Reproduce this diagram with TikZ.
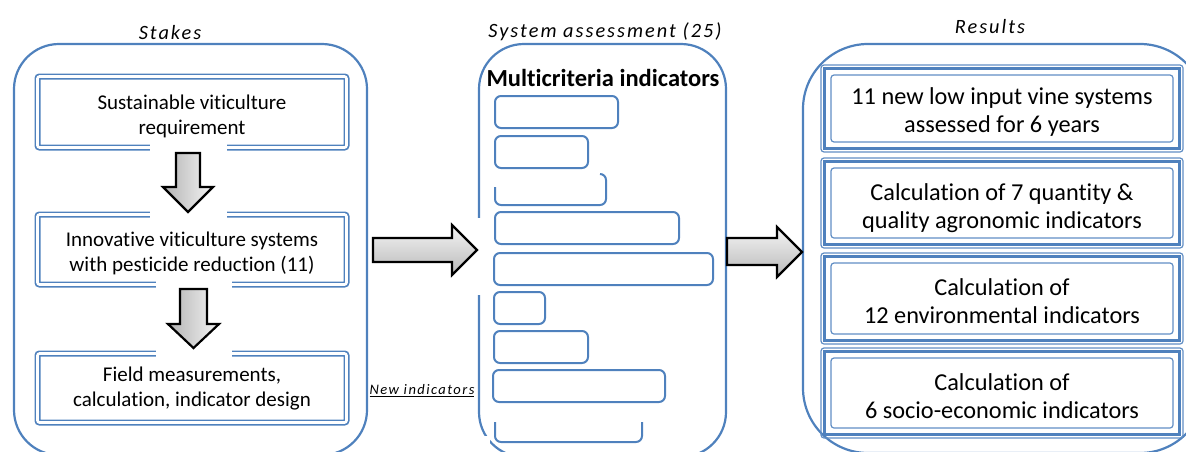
\documentclass[tikz,border=0pt]{standalone}
\usepackage{fontspec}
\setmainfont{Carlito}[Ligatures={NoCommon}]
\newfontfamily\spacedfont[LetterSpace=10]{Carlito}
\usetikzlibrary{calc}
\definecolor{obl}{HTML}{4F81BD}
\begin{document}
\begin{tikzpicture}[x=1pt,y=-1pt,
  container/.style={draw=obl, line width=2.2pt, inner sep=0pt, outer sep=0pt},
  dblbox/.style={draw=obl, double=white, double distance=2.6pt, line width=1.7pt, rounded corners=2pt,
     inner sep=0pt, outer sep=0pt, minimum width=309pt},
  dbltext/.style={align=center, inner sep=0pt, font=\fontsize{21}{25}\selectfont},
  resbox/.style={draw=obl, line width=3pt, inner sep=0pt, outer sep=0pt, minimum width=355pt},
  restext/.style={align=center, inner sep=0pt, font=\fontsize{24.3}{28}\selectfont},
  resthin/.style={draw=obl!90, line width=1.2pt, rounded corners=3pt},
  indbox/.style={draw=obl, line width=2pt, rounded corners=6pt, inner sep=0pt, outer sep=0pt, minimum height=32pt},
  indpath/.style={draw=obl, line width=2pt, rounded corners=6pt},
  title/.style={font=\spacedfont\itshape\fontsize{20.3}{22}\selectfont, inner sep=0pt},
  blockarrow/.style={draw=black, line width=2.2pt, miter limit=10},
  gap/.style={fill=white, draw=none}
]
\useasboundingbox (0,0) rectangle (1186,451);
\clip (0,0) rectangle (1186,451);

% containers
\node[container, rounded corners=45pt, minimum width=353pt, minimum height=411pt] (stakes) at (190.5,249.5) {};
\node[container, rounded corners=45pt, minimum width=247pt, minimum height=413pt] (assess) at (602.5,250.5) {};
\node[container, rounded corners=65pt, minimum width=402pt, minimum height=409pt] (results) at (1004,248.5) {};

% titles
\node[title] (tstakes) at (170,33) {Stakes};
\node[title] (tassess) at (605,32) {System assessment (25)};
\node[title] (tresults) at (990,27) {Results};

% left boxes
\node[dblbox, minimum height=71pt] (b1) at (192,112) {};
\node[dblbox, minimum height=70pt] (b2) at (192,249.5) {};
\node[dblbox, minimum height=69pt] (b3) at (192,388) {};
\node[dbltext] (b1t) at (192,116) {Sustainable viticulture\\requirement};
\node[dbltext] (b2t) at (192,253.5) {Innovative viticulture systems\\with pesticide reduction (11)};
\node[dbltext] (b3t) at (192,389) {Field measurements,\\calculation, indicator design};

% gaps behind arrows
\fill[gap] (150,142) rectangle (227,220);
\fill[gap] (156,281) rectangle (232,359);
\fill[gap] (371,218) rectangle (482,295);
\fill[gap] (470,436) rectangle (490,451);

% down arrows
\coordinate (d1) at (188,212);
\draw[blockarrow, left color=gray!60, right color=gray!8]
  (176,153) -- (200,153) -- (200,187) -- (213,187) -- (d1) -- (163,187) -- (176,187) -- cycle;
\coordinate (d2) at (193.5,348);
\draw[blockarrow, left color=gray!60, right color=gray!8]
  (180,289) -- (207,289) -- (207,324) -- (219,324) -- (d2) -- (168,324) -- (180,324) -- cycle;

% right arrows
\coordinate (a1) at (477,250);
\draw[blockarrow, top color=gray!8, bottom color=gray!55]
  (373,238) -- (452,238) -- (452,225) -- (a1) -- (452,275) -- (452,262) -- (373,262) -- cycle;
\coordinate (a2) at (802,252);
\draw[blockarrow, top color=gray!8, bottom color=gray!55]
  (727,238) -- (777,238) -- (777,227) -- (a2) -- (777,277) -- (777,265) -- (727,265) -- cycle;

% middle content
\node[font=\bfseries\fontsize{24.5}{28}\selectfont, inner sep=0pt] (multi) at (603,78) {Multicriteria indicators};
\node[indbox, minimum width=123pt] (i1) at (556.5,112) {};
\node[indbox, minimum width=93pt] (i2) at (541.5,152) {};
\draw[indpath] (600,174) -- (606,174) -- (606,205) -- (495,205) -- (495,187);
\node[indbox, minimum width=184pt] (i4) at (587,228) {};
\node[indbox, minimum width=219pt] (i5) at (603.5,269) {};
\node[indbox, minimum width=51pt] (i6) at (519.5,308) {};
\node[indbox, minimum width=94pt] (i7) at (541,347) {};
\node[indbox, minimum width=172pt] (i8) at (579,386) {};
\draw[indpath] (495,422) -- (495,442) -- (642,442) -- (642,422);

\node[font=\spacedfont\itshape\fontsize{14.5}{16}\selectfont, inner sep=0pt] (newind) at (422,391) {\underline{New indicators}};

% result boxes
\node[resbox, minimum height=80pt] (r1) at (1002,108.5) {};
\node[resbox, minimum height=83pt] (r2) at (1002,203) {};
\node[resbox, minimum height=84pt] (r3) at (1002,298.5) {};
\node[resbox, minimum height=83pt] (r4) at (1002,393) {};
\foreach \r in {r1,r2,r3,r4}{
  \draw[resthin] ($(\r.north west)+(-3.5,-3.5)$) rectangle ($(\r.south east)+(3.5,3.5)$);
  \draw[resthin] ($(\r.north west)+(6.5,6.5)$) rectangle ($(\r.south east)+(-6.5,-6.5)$);
}
\node[restext] (r1t) at (1002,112.5) {11 new low input vine systems\\assessed for 6 years};
\node[restext] (r2t) at (1002,208) {Calculation of 7 quantity \&\\quality agronomic indicators};
\node[restext] (r3t) at (1002,301.5) {Calculation of\\12 environmental indicators};
\node[restext] (r4t) at (1002,396) {Calculation of\\6 socio-economic indicators};
\end{tikzpicture}
\end{document}
